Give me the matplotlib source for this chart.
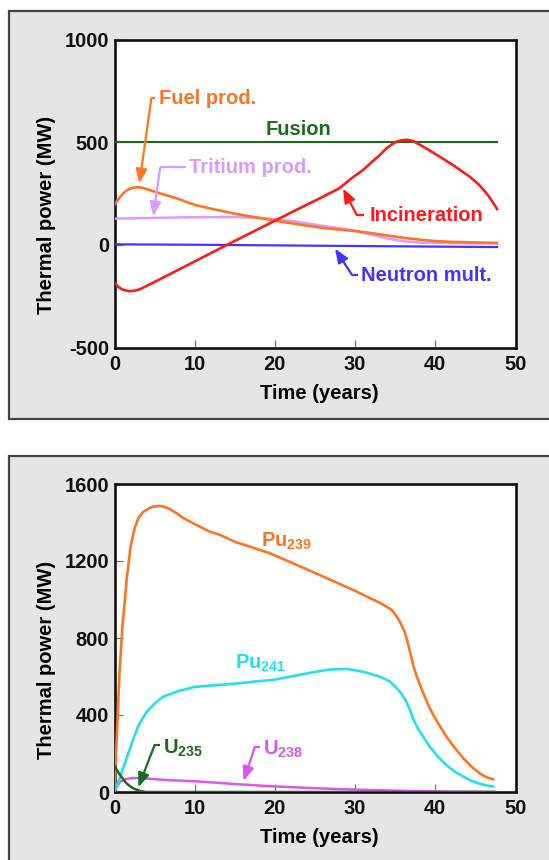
import matplotlib
matplotlib.use("Agg")
import matplotlib.pyplot as plt
from matplotlib.patches import Rectangle

plt.rcParams['font.family'] = ['Liberation Sans', 'DejaVu Sans']
plt.rcParams['font.weight'] = 'bold'
plt.rcParams['mathtext.fontset'] = 'custom'
plt.rcParams['mathtext.bf'] = 'Liberation Sans:bold'
plt.rcParams['mathtext.rm'] = 'Liberation Sans:bold'
plt.rcParams['mathtext.default'] = 'bf'

# ---------------- data: top panel ----------------
fusion_t = [0, 47.7]
fusion_v = [500, 500]

incin_t = [0, 0.5, 1, 1.8, 2.5, 3.2, 5, 8, 10, 12, 14, 17, 20, 23, 25.6, 28, 29.8, 30.9, 31.9, 33.0, 33.9,
           34.6, 35.2, 35.8, 36.5, 37.2, 38.1, 39.2, 40.2, 42.2, 44.3, 45.4, 46.4, 47.0, 47.7]
incin_v = [-184, -205, -217, -225, -223, -215, -180, -120, -80, -40, 0, 59, 118, 177, 227, 275, 332, 362, 397, 435, 470,
           490, 503, 510, 512, 506, 487, 462, 438, 389, 332, 295, 251, 218, 175]

fuel_t = [0, 0.5, 1, 1.5, 2, 2.5, 3, 3.5, 4, 5.7, 7.75, 10, 11.9, 15, 18, 20, 23, 25.6, 28, 30, 32, 34, 36, 38, 40, 42, 44, 47.7]
fuel_v = [195, 225, 248, 265, 275, 280, 281, 278, 272, 251, 227, 195, 178, 152, 132, 118, 100, 85, 75, 68, 58, 46, 35, 26, 19, 15, 13, 10]

trit_t = [0, 5, 10, 15, 18, 20, 23, 25.6, 28, 30, 32, 34, 36, 38, 40, 44, 47.7]
trit_v = [128, 132, 135, 136, 132, 126, 112, 95, 82, 68, 50, 32, 18, 12, 10, 8, 8]

neut_t = [0, 10, 20, 30, 40, 47.7]
neut_v = [3, 1, -2, -5, -8, -10]

# ---------------- data: bottom panel ----------------
pu239_t = [0, 0.3, 0.6, 1.0, 1.3, 1.5, 2.0, 2.5, 3.0, 3.6, 4.5, 5.0, 5.7, 6.3, 6.8, 7.75, 8.5, 9.8, 11.9, 13.2, 15, 19.4,
           25.6, 30, 31.9, 33.0, 33.9, 34.6, 35.2, 35.7, 36.2, 36.6, 37.0, 37.3, 37.7, 38.1, 38.5, 39.3, 40.3, 41.4,
           42.5, 43.5, 44.5, 45.6, 46.4, 47.2]
pu239_v = [0, 300, 600, 870, 1000, 1100, 1275, 1370, 1425, 1456, 1478, 1484, 1486, 1480, 1472, 1448, 1425, 1396, 1352, 1335, 1300, 1240,
           1127, 1045, 1006, 985, 963, 945, 911, 875, 830, 770, 703, 650, 599, 555, 513, 435, 360, 287,
           225, 175, 132, 95, 76, 66]

pu241_t = [0, 0.7, 1.3, 2.3, 3, 4, 5, 6, 8, 10, 15, 20, 25, 27, 29, 31, 33.1, 34.3, 35.2, 35.8, 36.4, 36.9, 37.3, 37.9,
           38.5, 39.3, 40.3, 41.4, 42.5, 43.5, 44.5, 45.6, 47.2]
pu241_v = [0, 80, 150, 270, 347, 416, 459, 494, 525, 546, 563, 584, 624, 637, 639, 625, 599, 575, 539, 510, 469, 420, 374, 325,
           287, 235, 185, 139, 104, 80, 58, 42, 28]

u235_t = [0, 0.35, 0.7, 1.1, 1.5, 2.0, 2.5, 3.2, 4.0, 47.5]
u235_v = [138, 110, 88, 65, 45, 28, 16, 5, 0, 0]

u238_t = [0, 0.7, 1.5, 2.35, 3.6, 6.5, 10.7, 14.8, 19, 23.1, 27.3, 32, 37, 42, 47.3]
u238_v = [8, 54, 68, 73, 71, 62, 54, 42, 31, 23, 16, 10, 5, 2, 1]

x_ticks = [0, 10, 20, 30, 40, 50]
top_yticks = [-500, 0, 500, 1000]
bot_yticks = [0, 400, 800, 1200, 1600]

C_ORANGE = '#ff7420'
C_RED = '#ff1a1a'
C_GREEN = '#1a6b1a'
C_TRIT = '#dd99ff'
C_BLUE = '#4433ff'
C_CYAN = '#22e0f0'
C_MAG = '#dd55ee'

W, H = 549, 860
fig = plt.figure(figsize=(W / 100, H / 100), dpi=100)
fig.patch.set_facecolor('white')

# gray panels
def px_rect(x0, y0, x1, y1):
    return Rectangle((x0 / W, 1 - y1 / H), (x1 - x0) / W, (y1 - y0) / H,
                     transform=fig.transFigure, facecolor='#e5e5e5',
                     edgecolor='#444444', linewidth=1.6, zorder=-10)

fig.patches.append(px_rect(9, 11, 560, 419))
fig.patches.append(px_rect(9, 456, 560, 880))

ax1 = fig.add_axes([114.5 / W, 1 - 347.7 / H, 401 / W, 308.2 / H])
ax2 = fig.add_axes([114.5 / W, 1 - 792 / H, 401 / W, 308 / H])

for ax in (ax1, ax2):
    ax.set_zorder(5)
    ax.set_facecolor('white')
    for s in ax.spines.values():
        s.set_linewidth(1.9)
        s.set_color('#111111')
    ax.set_xlim(0, 50)
    ax.set_xticks(x_ticks)
    ax.tick_params(direction='in', length=6, width=0.9, color='#777777',
                   labelsize=14.5, pad=4, labelcolor='#111111')
    ax.tick_params(axis='x', pad=5)
    ax.set_xlabel('Time (years)', fontsize=14.5, fontweight='bold', va='center')
    ax.set_ylabel('Thermal power (MW)', fontsize=14.5, fontweight='bold', va='center')
    ax.xaxis.set_label_coords(0.51, -0.147)
    ax.yaxis.set_label_coords(-0.17, 0.43)

# ---------------- top panel ----------------
ax1.set_ylim(-500, 1000)
ax1.set_yticks(top_yticks)
ax1.set_yticklabels([str(v) for v in top_yticks], fontweight='bold')
ax1.set_xticklabels([str(v) for v in x_ticks], fontweight='bold')

ax1.plot(fusion_t, fusion_v, color=C_GREEN, lw=1.5, zorder=3)
ax1.plot(neut_t, neut_v, color=C_BLUE, lw=1.6, zorder=3)
ax1.plot(trit_t, trit_v, color=C_TRIT, lw=1.8, zorder=3)
ax1.plot(fuel_t, fuel_v, color=C_ORANGE, lw=1.9, zorder=4)
ax1.plot(incin_t, incin_v, color=C_RED, lw=1.9, zorder=5)

AP = dict(arrowstyle='-|>,head_length=0.7,head_width=0.28', lw=1.6,
          mutation_scale=12, shrinkA=0, shrinkB=0)


def label_arrow(ax, text, color, text_xy, tail, stub_end, tip, fs=14.5):
    ax.text(text_xy[0], text_xy[1], text, color=color, fontsize=fs,
            fontweight='bold', ha='left', va='center', zorder=6)
    ax.plot([tail[0], stub_end], [tail[1], tail[1]], color=color, lw=1.6,
            solid_capstyle='butt', zorder=6)
    ax.annotate('', xy=tip, xytext=tail,
                arrowprops=dict(AP, color=color), zorder=6)


label_arrow(ax1, 'Fuel prod.', C_ORANGE, (5.6, 714), (4.6, 714), 5.1, (3.1, 300))
label_arrow(ax1, 'Tritium prod.', C_TRIT, (9.3, 378), (5.7, 378), 8.9, (4.84, 140))
label_arrow(ax1, 'Incineration', C_RED, (31.8, 141), (30.2, 146), 31.1, (28.5, 275))
label_arrow(ax1, 'Neutron mult.', C_BLUE, (30.7, -149), (29.6, -145), 30.3, (27.5, -18))
ax1.text(23, 562, 'Fusion', color=C_GREEN, fontsize=14.5, fontweight='bold',
         ha='center', va='center', zorder=6)

# ---------------- bottom panel ----------------
ax2.set_ylim(0, 1600)
ax2.set_yticks(bot_yticks)
ax2.set_yticklabels([str(v) for v in bot_yticks], fontweight='bold')
ax2.set_xticklabels([str(v) for v in x_ticks], fontweight='bold')

ax2.plot(u238_t, u238_v, color=C_MAG, lw=1.8, zorder=3)
ax2.plot(u235_t, u235_v, color=C_GREEN, lw=1.8, zorder=4)
ax2.plot(pu241_t, pu241_v, color=C_CYAN, lw=1.9, zorder=3)
ax2.plot(pu239_t, pu239_v, color=C_ORANGE, lw=1.9, zorder=3)

ax2.text(18.3, 1275, r'Pu$_{239}$', color=C_ORANGE, fontsize=14.5, fontweight='bold',
         ha='left', va='baseline', zorder=6)
ax2.text(15.0, 641, r'Pu$_{241}$', color=C_CYAN, fontsize=14.5, fontweight='bold',
         ha='left', va='baseline', zorder=6)


def label_arrow_b(ax, text, color, text_xy, tail, stub_end, tip):
    ax.text(text_xy[0], text_xy[1], text, color=color, fontsize=14.5,
            fontweight='bold', ha='left', va='baseline', zorder=6)
    ax.plot([tail[0], stub_end], [tail[1], tail[1]], color=color, lw=1.6,
            solid_capstyle='butt', zorder=6)
    ax.annotate('', xy=tip, xytext=tail,
                arrowprops=dict(AP, color=color), zorder=6)


label_arrow_b(ax2, r'U$_{235}$', C_GREEN, (6.1, 197), (5.0, 244), 5.7, (2.97, 25))
label_arrow_b(ax2, r'U$_{238}$', C_MAG, (18.5, 192), (17.5, 235), 18.2, (16.1, 58))

fig.savefig('out.png', dpi=100)
